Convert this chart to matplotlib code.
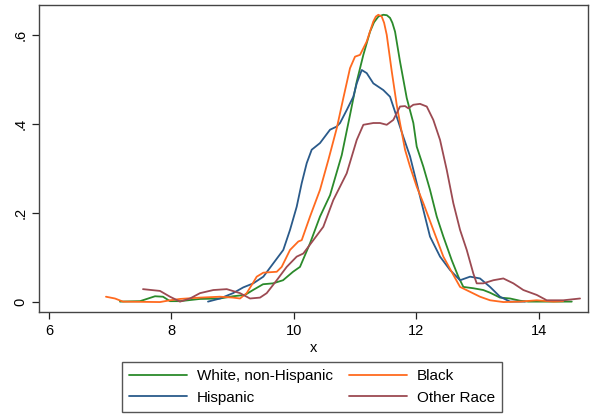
import matplotlib
matplotlib.use('Agg')
from matplotlib import pyplot as plt

# Kernel density estimates by race/ethnicity (x, density)
white_x = [7.160, 7.487, 7.732, 7.863, 7.977, 8.141, 8.467, 8.794, 9.007, 9.203, 9.333, 9.497,
           9.660, 9.824, 9.987, 10.101, 10.265, 10.428, 10.592, 10.783, 10.918, 11.028, 11.136,
           11.245, 11.310, 11.381, 11.462, 11.520, 11.572, 11.610, 11.654, 11.735, 11.845,
           11.953, 12.008, 12.116, 12.225, 12.335, 12.443, 12.580, 12.688, 12.770, 12.933,
           13.096, 13.206, 13.369, 13.533, 13.696, 13.832, 14.186, 14.541]
white_y = [0.001, 0.002, 0.013, 0.012, 0.002, 0.002, 0.007, 0.008, 0.013, 0.016, 0.027, 0.040,
           0.042, 0.049, 0.068, 0.079, 0.132, 0.192, 0.240, 0.330, 0.420, 0.495, 0.555,
           0.607, 0.628, 0.641, 0.645, 0.644, 0.638, 0.627, 0.607, 0.540, 0.458,
           0.402, 0.349, 0.304, 0.252, 0.192, 0.147, 0.094, 0.057, 0.034, 0.031,
           0.027, 0.021, 0.010, 0.008, 0.003, 0.001, 0.001, 0.001]

black_x = [6.931, 7.078, 7.209, 7.814, 7.977, 8.141, 8.467, 8.794, 9.007, 9.121, 9.230, 9.333,
           9.394, 9.502, 9.721, 9.802, 9.938, 10.074, 10.129, 10.265, 10.428, 10.564, 10.701,
           10.809, 10.918, 11.000, 11.082, 11.191, 11.299, 11.340, 11.381, 11.436, 11.475,
           11.518, 11.600, 11.681, 11.735, 11.817, 11.899, 12.008, 12.116, 12.279, 12.443,
           12.606, 12.716, 12.879, 13.042, 13.206, 13.423, 13.696, 13.969, 14.240, 14.399]
black_y = [0.012, 0.008, 0.001, 0.000, 0.004, 0.007, 0.010, 0.012, 0.010, 0.008, 0.020, 0.043,
           0.057, 0.066, 0.068, 0.079, 0.117, 0.136, 0.139, 0.192, 0.252, 0.319, 0.390,
           0.458, 0.525, 0.551, 0.555, 0.585, 0.630, 0.641, 0.645, 0.641, 0.627,
           0.600, 0.518, 0.443, 0.402, 0.342, 0.304, 0.259, 0.222, 0.162, 0.102,
           0.061, 0.034, 0.023, 0.012, 0.004, 0.000, 0.001, 0.004, 0.001, 0.002]

hisp_x = [8.598, 8.794, 9.007, 9.175, 9.338, 9.502, 9.665, 9.828, 9.938, 10.047, 10.129, 10.211,
          10.292, 10.428, 10.592, 10.701, 10.755, 10.864, 10.972, 11.028, 11.110, 11.191,
          11.299, 11.462, 11.572, 11.681, 11.789, 11.899, 12.008, 12.116, 12.225, 12.389,
          12.552, 12.716, 12.879, 13.042, 13.206, 13.369, 13.533, 13.778]
hisp_y = [0.001, 0.008, 0.020, 0.033, 0.042, 0.057, 0.087, 0.117, 0.162, 0.214, 0.267, 0.312,
          0.342, 0.357, 0.387, 0.394, 0.402, 0.431, 0.461, 0.491, 0.521, 0.514,
          0.491, 0.476, 0.461, 0.416, 0.371, 0.327, 0.267, 0.207, 0.147, 0.102,
          0.072, 0.049, 0.057, 0.053, 0.034, 0.012, 0.001, 0.001]

other_x = [7.536, 7.814, 7.977, 8.141, 8.304, 8.467, 8.685, 8.904, 9.121, 9.284, 9.448, 9.557,
           9.721, 9.884, 10.047, 10.155, 10.319, 10.482, 10.645, 10.864, 11.028, 11.136,
           11.299, 11.408, 11.518, 11.626, 11.735, 11.817, 11.871, 11.953, 12.062, 12.172,
           12.279, 12.389, 12.498, 12.606, 12.716, 12.825, 12.933, 12.988, 13.096, 13.260,
           13.423, 13.587, 13.750, 13.969, 14.132, 14.404, 14.676]
other_y = [0.029, 0.025, 0.012, 0.001, 0.008, 0.020, 0.027, 0.029, 0.020, 0.008, 0.010, 0.020,
           0.049, 0.079, 0.102, 0.109, 0.139, 0.169, 0.229, 0.289, 0.364, 0.398,
           0.402, 0.402, 0.398, 0.409, 0.439, 0.440, 0.435, 0.443, 0.445, 0.439,
           0.409, 0.364, 0.297, 0.222, 0.162, 0.117, 0.064, 0.042, 0.042, 0.049,
           0.053, 0.042, 0.027, 0.016, 0.004, 0.004, 0.008]

x_ticks = [6, 8, 10, 12, 14]
y_ticks = [0, 0.2, 0.4, 0.6]
y_ticklabels = ['0', '.2', '.4', '.6']

plt.rcParams.update({'font.family': ['Liberation Sans', 'DejaVu Sans'], 'font.size': 10.5})

fig = plt.figure(figsize=(5.91, 4.15), dpi=100)
ax = fig.add_axes([0.066, 0.248, 0.929, 0.740])

lw = 1.3
kw = dict(lw=lw, solid_joinstyle='round', solid_capstyle='round')
ax.plot(white_x, white_y, color='#2b8a2b', label='White, non-Hispanic', **kw)
ax.plot(hisp_x, hisp_y, color='#2a5a8a', label='Hispanic', **kw)
ax.plot(black_x, black_y, color='#ff6a1f', label='Black', **kw)
ax.plot(other_x, other_y, color='#9c4a52', label='Other Race', **kw)

ax.set_xlim(5.837, 14.807)
ax.set_ylim(-0.0225, 0.667)
ax.set_xticks(x_ticks)
ax.set_yticks(y_ticks)
ax.set_yticklabels(y_ticklabels, rotation=90, va='center')
ax.tick_params(axis='both', direction='out', length=5, width=0.9, colors='#222222',
               labelcolor='black', labelsize=10.5)
ax.set_xlabel('x', fontsize=10.5, labelpad=2)
for s in ax.spines.values():
    s.set_color('#444444')
    s.set_linewidth(1.0)

fig.legend(loc='center', bbox_to_anchor=(0.528, 0.0675), ncol=2, fontsize=11,
           frameon=True, fancybox=False, edgecolor='#555555', framealpha=1,
           handlelength=3.8, handletextpad=0.6, columnspacing=1.1,
           labelspacing=0.5, borderpad=0.45)

fig.savefig('out.png', dpi=100)
